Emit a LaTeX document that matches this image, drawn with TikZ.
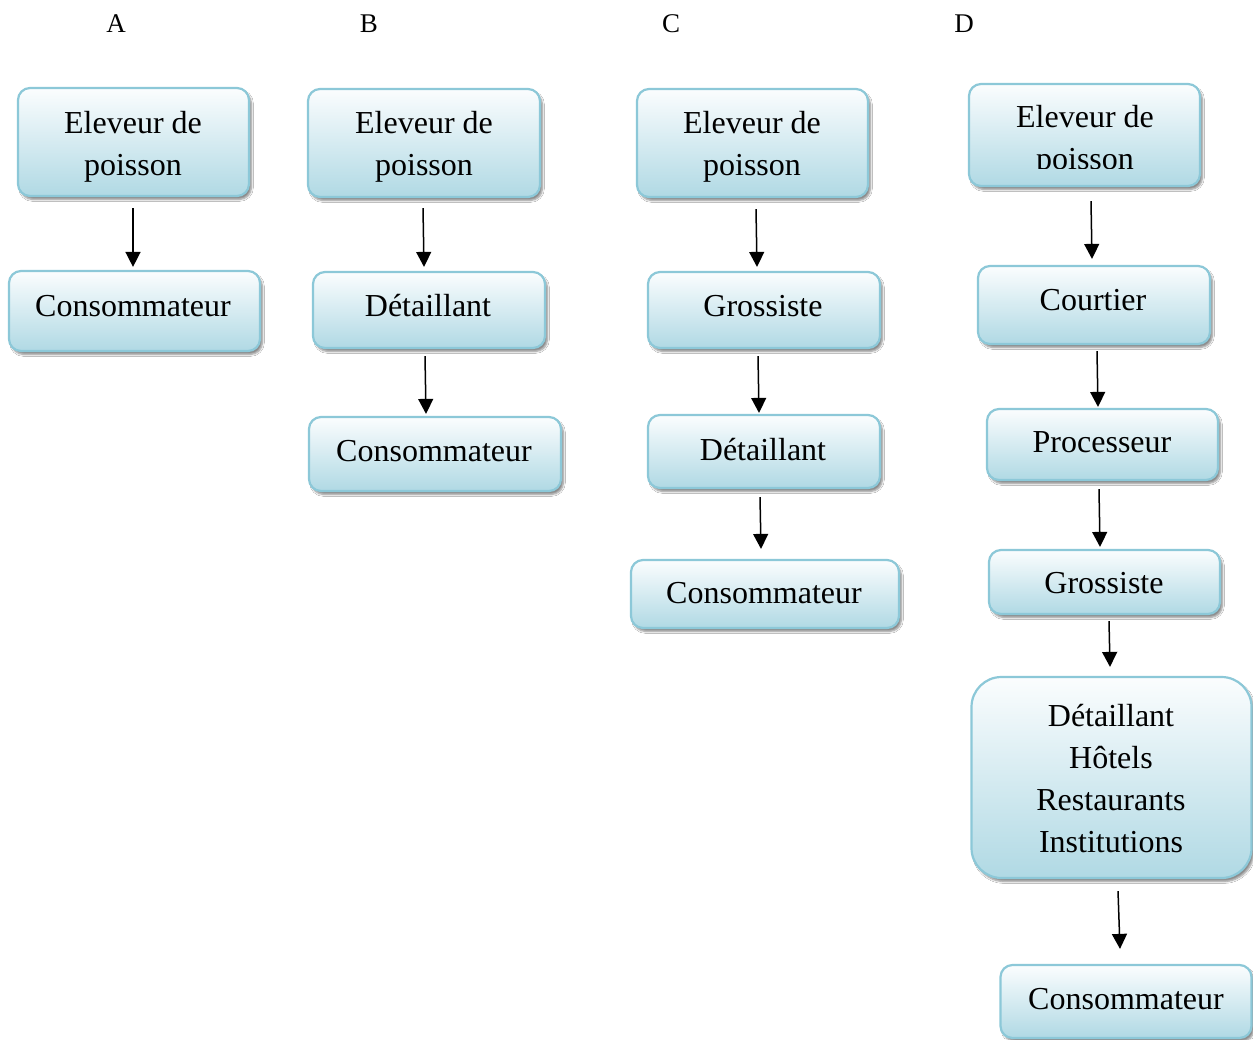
\documentclass[tikz,border=0pt]{standalone}
\usepackage{fontspec}
\setmainfont{Liberation Serif}
\usetikzlibrary{shadows.blur,arrows.meta,calc}
\definecolor{bordc}{RGB}{140,200,216}
\definecolor{topc}{RGB}{251,253,254}
\definecolor{midc}{RGB}{226,241,246}
\definecolor{botc}{RGB}{176,217,228}
\begin{document}
\begin{tikzpicture}[x=1pt,y=-1pt,
  flowbox/.style={draw=bordc, line width=2.2pt, rounded corners=12pt, inner sep=0pt,
    top color=topc, middle color=midc, bottom color=botc,
    blur shadow={shadow xshift=2.5pt, shadow yshift=-3.5pt, shadow blur steps=6, shadow opacity=45}},
  bigbox/.style={flowbox, rounded corners=30pt},
  txt/.style={font=\fontsize{32}{42}\selectfont, align=center, inner sep=0pt},
  head/.style={font=\fontsize{27}{30}\selectfont, inner sep=0pt},
  arr/.style={line width=1.5pt, -{Triangle[width=15pt,length=15pt]}}]
\useasboundingbox (0,0) rectangle (1253,1039);
\fill[white] (0,0) rectangle (1253,1039);

% column headers
\node[head] (ha) at (116,24) {A};
\node[head] (hb) at (369,24) {B};
\node[head] (hc) at (671,24) {C};
\node[head] (hd) at (964,24) {D};

% boxes
\node[flowbox, minimum width=231pt, minimum height=108pt] (a1) at (133.5,142) {};
\node[flowbox, minimum width=251pt, minimum height=80pt]  (a2) at (134.5,311) {};
\node[flowbox, minimum width=232pt, minimum height=108pt] (b1) at (424,143) {};
\node[flowbox, minimum width=232pt, minimum height=76pt]  (b2) at (429,310) {};
\node[flowbox, minimum width=252pt, minimum height=74pt]  (b3) at (435,454) {};
\node[flowbox, minimum width=231pt, minimum height=108pt] (c1) at (752.5,143) {};
\node[flowbox, minimum width=232pt, minimum height=76pt]  (c2) at (764,310) {};
\node[flowbox, minimum width=232pt, minimum height=73pt]  (c3) at (764,451.5) {};
\node[flowbox, minimum width=268pt, minimum height=68pt]  (c4) at (765,594) {};
\node[flowbox, minimum width=231pt, minimum height=102pt] (d1) at (1084.5,135) {};
\node[flowbox, minimum width=232pt, minimum height=78pt]  (d2) at (1094,305) {};
\node[flowbox, minimum width=231pt, minimum height=71pt]  (d3) at (1102.5,444.5) {};
\node[flowbox, minimum width=231pt, minimum height=64pt]  (d4) at (1104.5,582) {};
\node[bigbox,  minimum width=280pt, minimum height=201pt] (d5) at (1111.5,777.5) {};
\node[flowbox, minimum width=251pt, minimum height=73pt]  (d6) at (1126,1001.5) {};

% texts
\node[txt] (a1t) at (133,146.5) {Eleveur de\\poisson};
\node[txt, anchor=base] (a2t) at (133,316) {Consommateur};
\node[txt] (b1t) at (424,146.5) {Eleveur de\\poisson};
\node[txt, anchor=base] (b2t) at (428,316) {Détaillant};
\node[txt, anchor=base] (b3t) at (434,461) {Consommateur};
\node[txt] (c1t) at (752,146.5) {Eleveur de\\poisson};
\node[txt, anchor=base] (c2t) at (763,316) {Grossiste};
\node[txt, anchor=base] (c3t) at (763,460) {Détaillant};
\node[txt, anchor=base] (c4t) at (764,603) {Consommateur};
\begin{scope}
  \clip (969,84) rectangle (1200,168);
  \node[txt] (d1t) at (1085,141) {Eleveur de\\poisson};
\end{scope}
\node[txt, anchor=base] (d2t) at (1093,310) {Courtier};
\node[txt, anchor=base] (d3t) at (1102,452) {Processeur};
\node[txt, anchor=base] (d4t) at (1104,593) {Grossiste};
\node[txt] (d5t) at (1111,779) {Détaillant\\Hôtels\\Restaurants\\Institutions};
\node[txt, anchor=base] (d6t) at (1126,1009) {Consommateur};

% arrows
\draw[arr] ($(a1.south)+(-0.5,11)$) -- ($(a2.north)+(-1.5,-3)$);
\draw[arr] ($(b1.south)+(-1,10)$) -- ($(b2.north)+(-5,-4)$);
\draw[arr] ($(b2.south)+(-4,7)$) -- ($(b3.north)+(-9,-2)$);
\draw[arr] ($(c1.south)+(3.5,11)$) -- ($(c2.north)+(-7,-4)$);
\draw[arr] ($(c2.south)+(-6,7)$) -- ($(c3.north)+(-5,-1)$);
\draw[arr] ($(c3.south)+(-4,8)$) -- ($(c4.north)+(-4,-10)$);
\draw[arr] ($(d1.south)+(6.5,14)$) -- ($(d2.north)+(-2,-6)$);
\draw[arr] ($(d2.south)+(3,6)$) -- ($(d3.north)+(-4.5,-1)$);
\draw[arr] ($(d3.south)+(-3.5,8)$) -- ($(d4.north)+(-4.5,-2)$);
\draw[arr] ($(d4.south)+(4.5,6)$) -- ($(d5.north)+(-1.5,-9)$);
\draw[arr] ($(d5.south)+(6.5,12)$) -- ($(d6.north)+(-6,-15)$);
\end{tikzpicture}
\end{document}
